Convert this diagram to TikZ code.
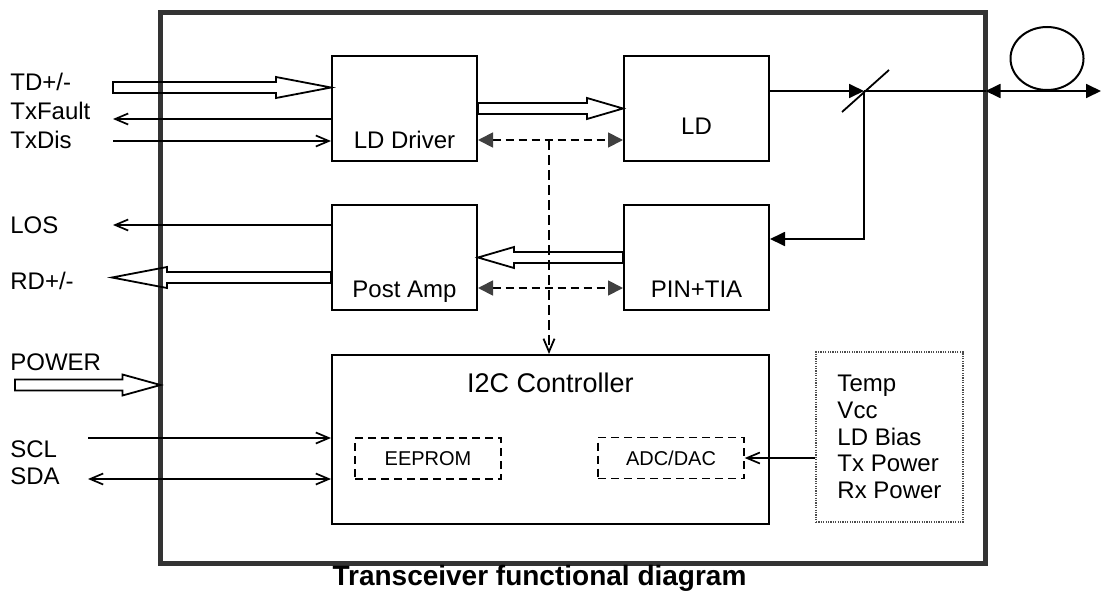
\documentclass[tikz,border=0pt]{standalone}
\usepackage{fontspec}
\setmainfont{Liberation Sans}
\usetikzlibrary{arrows.meta,positioning,shapes.geometric,calc}

% hollow (block) arrow between two points on one horizontal line
\newcommand\fatarrow[3][18pt]{%
  \draw[fat] let \p1=(#2), \p2=(#3), \n1={\x2-sign(\x2-\x1)*#1} in
    (\x1,\y1+2.75pt) -| (\n1,\y1+5.25pt) -- (\x2,\y1)
    -- (\n1,\y1-5.25pt) |- (\x1,\y1-2.75pt) -- cycle;}

\begin{document}
\begin{tikzpicture}[
    x=0.5pt, y=-0.5pt,
    >={Straight Barb[length=6.5pt,width=5.5pt]},
    font=\fontsize{12pt}{14pt}\selectfont,
    blk/.style={draw, line width=1pt, minimum width=72.5pt, minimum height=52.5pt, inner sep=0pt},
    sub/.style={draw, dash pattern=on 4pt off 2.5pt, line width=0.7pt, minimum width=73pt, minimum height=20.5pt, inner sep=0pt, font=\fontsize{10pt}{12pt}\selectfont},
    lbl/.style={anchor=base west, inner sep=0pt},
    sig/.style={line width=0.85pt, ->},
    fat/.style={draw, line width=0.9pt},
    opt/.style={line width=0.9pt, -{Triangle[length=7.5pt,width=7pt]}},
    bus/.style={line width=0.9pt, dash pattern=on 4pt off 2.5pt, {Triangle[length=7.5pt,width=7.5pt,color=black!75]}-{Triangle[length=7.5pt,width=7.5pt,color=black!75]}}
]
\useasboundingbox (0,0) rectangle (1102,594);

% module outline
\node[draw=black!80, line width=2.25pt, minimum width=412.5pt, minimum height=275.5pt, outer sep=0pt] (mod) at (573,288) {};

% transmit / receive blocks
\node[blk] (drv) at (404.5,108.5) {};
\node[blk, right=72.5pt of drv] (ld) {};
\node[blk, below=21pt of drv] (amp) {};
\node[blk, below=21pt of ld] (pin) {};
\node[anchor=base] at ([yshift=7pt]drv.south) {LD Driver};
\node[anchor=base] at ([yshift=14pt]ld.south) {LD};
\node[anchor=base] at ([yshift=7pt]amp.south) {Post Amp};
\node[anchor=base] at ([yshift=7pt]pin.south) {PIN+TIA};

% controller
\node[blk, minimum width=218.5pt, minimum height=84.5pt, below=21.5pt of amp.south west, anchor=north west] (i2c) {};
\node[font=\fontsize{13.5pt}{16pt}\selectfont, anchor=base] at ([yshift=-19pt]i2c.north) {I2C Controller};
\node[sub] (eep) at (428,458.5) {EEPROM};
\node[sub] (adc) at (671,458) {ADC/DAC};

% monitored values
\node[draw=black!70, dash pattern=on 0.6pt off 0.6pt, line width=0.6pt, minimum width=73.5pt, minimum height=85pt,
      inner sep=0pt, align=left, font=\fontsize{12pt}{13.4pt}\selectfont] (sens) at (889.5,437)
      {Temp\\Vcc\\LD Bias\\Tx Power\\Rx Power};

% pin labels
\node[lbl] (tdl) at (10,90) {TD+/-};
\node[lbl] (txfl) at (10,119.5) {TxFault};
\node[lbl] (txdl) at (10,148) {TxDis};
\node[lbl] (losl) at (10,233) {LOS};
\node[lbl] (rdl) at (10,289) {RD+/-};
\node[lbl] (pwrl) at (10,370) {POWER};
\node[lbl] (scll) at (10,457) {SCL};
\node[lbl] (sdal) at (10,484) {SDA};

\coordinate (td) at (113,87.5);
\coordinate (txf) at (113,119);
\coordinate (txd) at (113,141);
\coordinate (los) at (113,225);
\coordinate (rd) at (112,277.5);
\coordinate (pwr) at (15,385);
\coordinate (scl) at (88,438);
\coordinate (sda) at (88,479);

% electrical signals
\fatarrow[27.5pt]{td}{drv.west |- td}
\draw[sig] (drv.west |- txf) -- (txf);
\draw[sig] (txd) -- (drv.west |- txd);
\draw[sig] (amp.west |- los) -- (los);
\fatarrow[27.5pt]{amp.west |- rd}{rd}
\fatarrow[19pt]{pwr}{mod.west |- pwr}
\draw[sig] (scl) -- (i2c.west |- scl);
\draw[sig, <->] (sda) -- (i2c.west |- sda);

\fatarrow{drv.east}{ld.west}
\fatarrow{pin.west}{amp.east}

% control bus
\coordinate (bus1) at (549,140);
\coordinate (bus2) at (549,288);
\draw[bus] (drv.east |- bus1) -- (ld.west |- bus1);
\draw[bus] (amp.east |- bus2) -- (pin.west |- bus2);
\draw[line width=0.9pt, dash pattern=on 5pt off 2.5pt, ->] (bus1) -- (i2c.north -| bus1);
\draw[sig] (sens.west |- adc) -- (adc.east);

% optical path
\coordinate (sp) at (864,91);
\coordinate (rx) at (864,239);
\coordinate (fib) at (1101,91);
\draw[opt] (ld.east |- sp) -- (sp);
\draw[line width=0.9pt] ([shift={(-11pt,-10.5pt)}]sp) -- ([shift={(12.5pt,10.5pt)}]sp);
\draw[line width=1.1pt] (sp) -- (mod.east |- sp);
\draw[line width=0.9pt, {Triangle[length=7.5pt,width=7pt]}-{Triangle[length=7.5pt,width=7pt]}] (mod.east |- sp) -- (fib);
\draw[opt] (sp) -- (rx) -- (pin.east |- rx);
\node[draw, ellipse, line width=1pt, minimum width=36.5pt, minimum height=31.5pt, inner sep=0pt] (coil) at (1047,58.5) {};

\node[font=\bfseries\fontsize{14pt}{16pt}\selectfont, anchor=base] (title) at (539.5,585) {Transceiver functional diagram};

\end{tikzpicture}
\end{document}
